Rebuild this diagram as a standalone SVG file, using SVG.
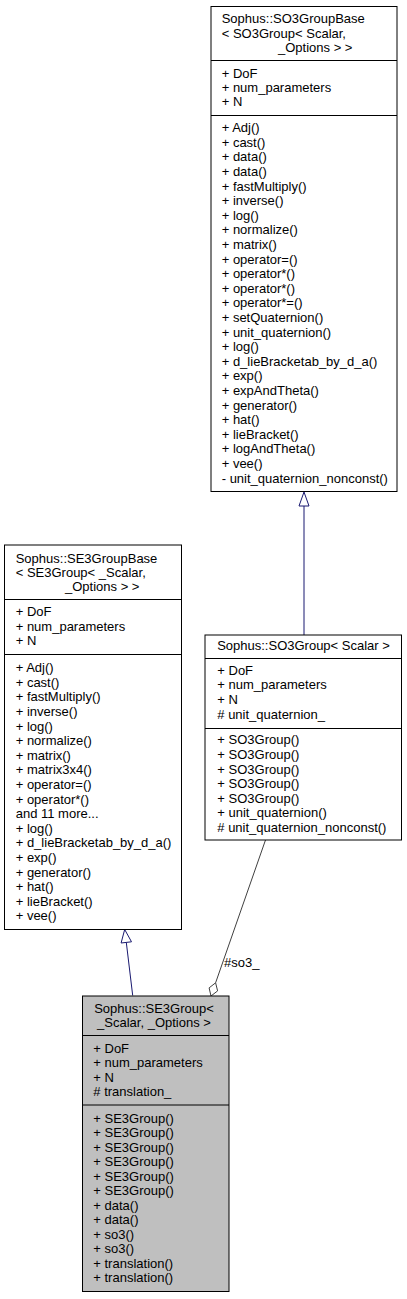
<svg xmlns="http://www.w3.org/2000/svg" width="407" height="1299" viewBox="0 0 407 1299">
<style>
text{font-family:"Liberation Sans",Arial,Helvetica,sans-serif;font-size:13px;fill:#000}
.box{fill:#fff;stroke:#000;stroke-width:1}
.cur{fill:#bfbfbf;stroke:#000;stroke-width:1}
.sep{stroke:#000;stroke-width:1}
.inh{stroke:#191970;stroke-width:1;fill:none}
.inhhead{stroke:#191970;stroke-width:1;fill:#fff}
.agg{stroke:#404040;stroke-width:1;fill:none}
.agghead{stroke:#404040;stroke-width:1;fill:#fff}
.mid{text-anchor:middle}
</style>
<rect width="407" height="1299" fill="#fff"/>
<g id="connectors">
<line class="inh" x1="304" y1="635" x2="304" y2="506"/>
<polygon class="inhhead" points="304,492 299,506 309,506"/>
<line class="inh" x1="132.7" y1="995.5" x2="126.3" y2="942.4"/>
<polygon class="inhhead" points="124.7,929.5 131.5,941.8 121.1,943"/>
<line class="agg" x1="265.5" y1="840" x2="215.6" y2="982.8"/>
<polygon class="agghead" points="211,996 217.6,990.9 215.6,982.8 209.1,987.9"/>
<text x="224" y="966.5">#so3_</text>
</g>
<g id="node_so3groupbase">
<rect class="box" x="211" y="6.5" width="186" height="485"/>
<text x="221.7" y="23">Sophus::SO3GroupBase</text>
<text x="221.7" y="37.5">&lt; SO3Group&lt; Scalar,</text>
<text x="278" y="51.5"> _Options &gt; &gt;</text>
<line class="sep" x1="211" y1="60.5" x2="397" y2="60.5"/>
<text x="221.7" y="78">+ DoF</text>
<text x="221.7" y="92">+ num_parameters</text>
<text x="221.7" y="106">+ N</text>
<line class="sep" x1="211" y1="115.5" x2="397" y2="115.5"/>
<text x="221.7" y="132.2">+ Adj()</text>
<text x="221.7" y="146.8">+ cast()</text>
<text x="221.7" y="161.4">+ data()</text>
<text x="221.7" y="176">+ data()</text>
<text x="221.7" y="190.6">+ fastMultiply()</text>
<text x="221.7" y="205.2">+ inverse()</text>
<text x="221.7" y="219.8">+ log()</text>
<text x="221.7" y="234.4">+ normalize()</text>
<text x="221.7" y="249">+ matrix()</text>
<text x="221.7" y="263.6">+ operator=()</text>
<text x="221.7" y="278.2">+ operator*()</text>
<text x="221.7" y="292.8">+ operator*()</text>
<text x="221.7" y="307.4">+ operator*=()</text>
<text x="221.7" y="322">+ setQuaternion()</text>
<text x="221.7" y="336.6">+ unit_quaternion()</text>
<text x="221.7" y="351.2">+ log()</text>
<text x="221.7" y="365.8">+ d_lieBracketab_by_d_a()</text>
<text x="221.7" y="380.4">+ exp()</text>
<text x="221.7" y="395">+ expAndTheta()</text>
<text x="221.7" y="409.6">+ generator()</text>
<text x="221.7" y="424.2">+ hat()</text>
<text x="221.7" y="438.8">+ lieBracket()</text>
<text x="221.7" y="453.4">+ logAndTheta()</text>
<text x="221.7" y="468">+ vee()</text>
<text x="221.7" y="482.6">- unit_quaternion_nonconst()</text>
</g>
<g id="node_se3groupbase">
<rect class="box" x="4.5" y="545" width="177" height="384.5"/>
<text x="15.7" y="562.8">Sophus::SE3GroupBase</text>
<text x="15.7" y="577.2">&lt; SE3Group&lt; _Scalar,</text>
<text x="65" y="591.2"> _Options &gt; &gt;</text>
<line class="sep" x1="4.5" y1="599.5" x2="181.5" y2="599.5"/>
<text x="15.7" y="616.2">+ DoF</text>
<text x="15.7" y="630.5">+ num_parameters</text>
<text x="15.7" y="644.5">+ N</text>
<line class="sep" x1="4.5" y1="654.5" x2="181.5" y2="654.5"/>
<text x="15.7" y="672.2">+ Adj()</text>
<text x="15.7" y="686.8">+ cast()</text>
<text x="15.7" y="701.4">+ fastMultiply()</text>
<text x="15.7" y="716">+ inverse()</text>
<text x="15.7" y="730.6">+ log()</text>
<text x="15.7" y="745.2">+ normalize()</text>
<text x="15.7" y="759.8">+ matrix()</text>
<text x="15.7" y="774.4">+ matrix3x4()</text>
<text x="15.7" y="789">+ operator=()</text>
<text x="15.7" y="803.6">+ operator*()</text>
<text x="15.7" y="818.2">and 11 more...</text>
<text x="15.7" y="832.8">+ log()</text>
<text x="15.7" y="847.4">+ d_lieBracketab_by_d_a()</text>
<text x="15.7" y="862">+ exp()</text>
<text x="15.7" y="876.6">+ generator()</text>
<text x="15.7" y="891.2">+ hat()</text>
<text x="15.7" y="905.8">+ lieBracket()</text>
<text x="15.7" y="920.4">+ vee()</text>
</g>
<g id="node_so3group">
<rect class="box" x="205" y="635" width="196.5" height="205"/>
<text class="mid" x="303.5" y="650.2">Sophus::SO3Group&lt; Scalar &gt;</text>
<line class="sep" x1="205" y1="658.5" x2="401.5" y2="658.5"/>
<text x="217.3" y="674.5">+ DoF</text>
<text x="217.3" y="689.3">+ num_parameters</text>
<text x="217.3" y="704.1">+ N</text>
<text x="217.3" y="718.9"># unit_quaternion_</text>
<line class="sep" x1="205" y1="728.5" x2="401.5" y2="728.5"/>
<text x="217.3" y="744.3">+ SO3Group()</text>
<text x="217.3" y="758.9">+ SO3Group()</text>
<text x="217.3" y="773.5">+ SO3Group()</text>
<text x="217.3" y="788.1">+ SO3Group()</text>
<text x="217.3" y="802.7">+ SO3Group()</text>
<text x="217.3" y="817.3">+ unit_quaternion()</text>
<text x="217.3" y="831.9"># unit_quaternion_nonconst()</text>
</g>
<g id="node_se3group">
<rect class="cur" x="82.5" y="996" width="146.5" height="295.5"/>
<text class="mid" x="154" y="1012.8">Sophus::SE3Group&lt;</text>
<text class="mid" x="154" y="1027.2"> _Scalar, _Options &gt;</text>
<line class="sep" x1="82.5" y1="1035.5" x2="229" y2="1035.5"/>
<text x="93.3" y="1052.8">+ DoF</text>
<text x="93.3" y="1067.3">+ num_parameters</text>
<text x="93.3" y="1081.8">+ N</text>
<text x="93.3" y="1096.3"># translation_</text>
<line class="sep" x1="82.5" y1="1105" x2="229" y2="1105"/>
<text x="93.3" y="1122.8">+ SE3Group()</text>
<text x="93.3" y="1137.3">+ SE3Group()</text>
<text x="93.3" y="1151.8">+ SE3Group()</text>
<text x="93.3" y="1166.3">+ SE3Group()</text>
<text x="93.3" y="1180.8">+ SE3Group()</text>
<text x="93.3" y="1195.3">+ SE3Group()</text>
<text x="93.3" y="1209.8">+ data()</text>
<text x="93.3" y="1224.3">+ data()</text>
<text x="93.3" y="1238.8">+ so3()</text>
<text x="93.3" y="1253.3">+ so3()</text>
<text x="93.3" y="1267.8">+ translation()</text>
<text x="93.3" y="1282.3">+ translation()</text>
</g>
</svg>
